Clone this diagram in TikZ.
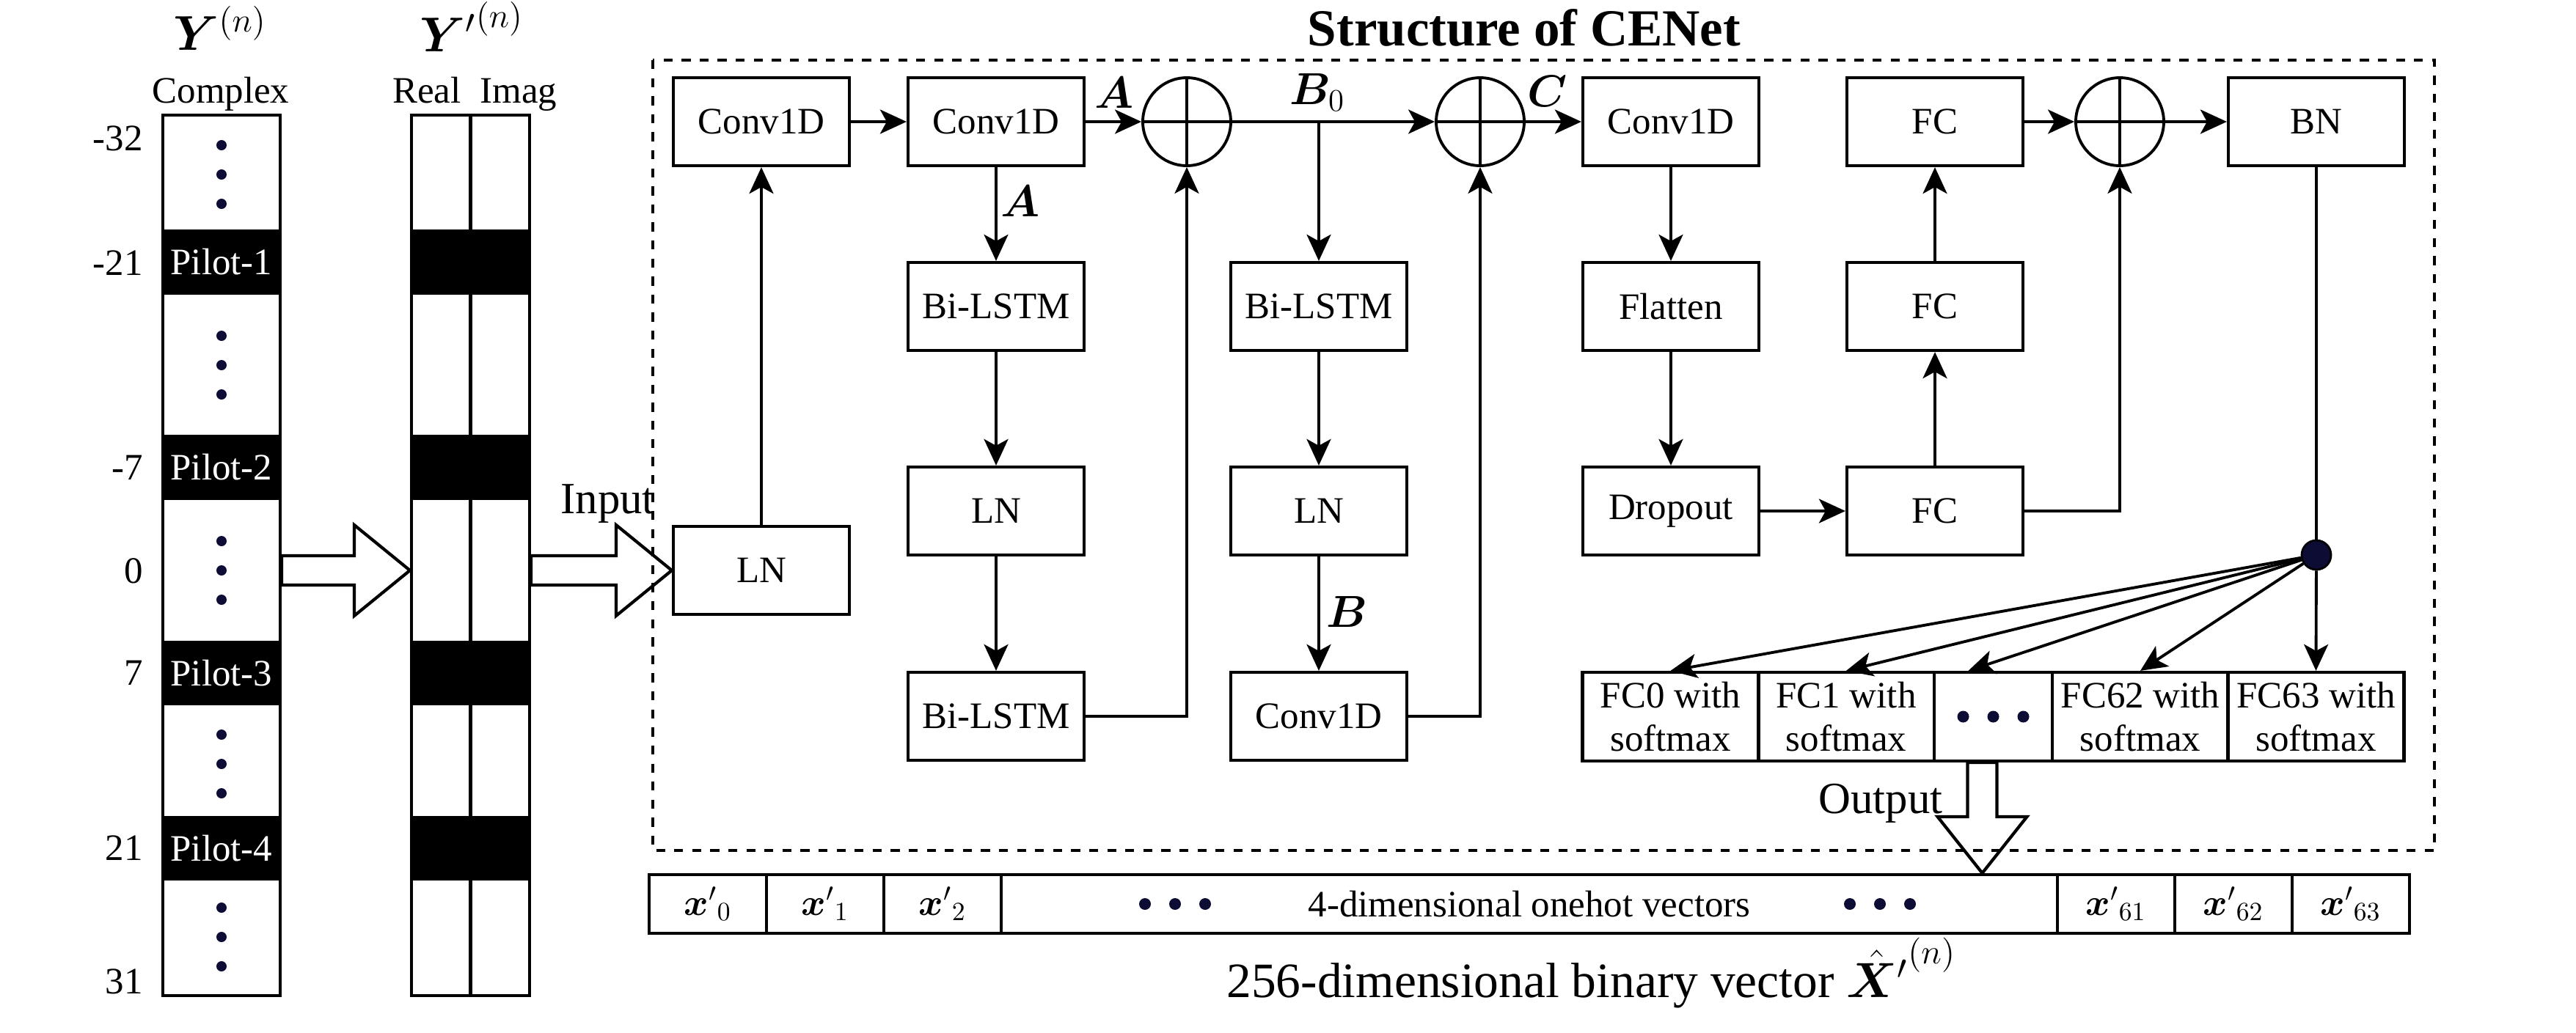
\RequirePackage{fix-cm}
\documentclass[tikz,border=0pt]{standalone}
\usepackage[no-math]{fontspec}
\setmainfont{Liberation Serif}
\usepackage{amsmath}
\usepackage{bm}
\usetikzlibrary{arrows.meta, positioning, calc}

\definecolor{dotblue}{RGB}{12,12,52}

% hollow block arrows
\newcommand{\fatright}[2]{%
  \draw[fat] let \p1=(#1), \p2=(#2) in
    (\x1,\y1+2mm) -- (\x2-7.6mm,\y1+2mm) -- (\x2-7.6mm,\y1+6.2mm) -- (\x2,\y1)
    -- (\x2-7.6mm,\y1-6.2mm) -- (\x2-7.6mm,\y1-2mm) -- (\x1,\y1-2mm) -- cycle;}
\newcommand{\fatdown}[2]{%
  \draw[fat] let \p1=(#1), \p2=(#2) in
    (\x1-2mm,\y1) -- (\x1-2mm,\y2+7.7mm) -- (\x1-6.1mm,\y2+7.7mm) -- (\x1,\y2)
    -- (\x1+6.1mm,\y2+7.7mm) -- (\x1+2mm,\y2+7.7mm) -- (\x1+2mm,\y1) -- cycle;}

\begin{document}
\begin{tikzpicture}[
    font=\fontsize{14.5}{16.8}\selectfont,
    block/.style={draw, line width=1.2pt, minimum width=24mm, minimum height=12mm, inner sep=1pt, align=center},
    sumnode/.style={circle, draw, line width=1.1pt, minimum size=12mm, inner sep=0pt,
      path picture={\draw[line width=1.1pt] (path picture bounding box.north) -- (path picture bounding box.south)
        (path picture bounding box.west) -- (path picture bounding box.east);}},
    strip/.style={draw, line width=1.2pt, minimum width=16mm, minimum height=120.1mm, inner sep=0pt},
    pilot/.style={draw, fill=black, text=white, line width=1.2pt, minimum width=16mm, minimum height=8.4mm, inner sep=0pt},
    vdots/.style={minimum width=3mm, minimum height=10mm, inner sep=0pt,
      path picture={
        \fill[dotblue] ([yshift=4mm]path picture bounding box.center) circle (0.7mm);
        \fill[dotblue] (path picture bounding box.center) circle (0.7mm);
        \fill[dotblue] ([yshift=-4mm]path picture bounding box.center) circle (0.7mm);}},
    hdots/.style={minimum width=10.5mm, minimum height=3mm, inner sep=0pt,
      path picture={
        \fill[dotblue] ([xshift=-4.1mm]path picture bounding box.center) circle (0.8mm);
        \fill[dotblue] (path picture bounding box.center) circle (0.8mm);
        \fill[dotblue] ([xshift=4.1mm]path picture bounding box.center) circle (0.8mm);}},
    cell/.style={draw, line width=1.2pt, minimum width=16mm, minimum height=8mm, inner sep=0pt},
    link/.style={-{Stealth[length=3.6mm, width=3.3mm, inset=0.9mm]}, line width=1.1pt},
    fat/.style={line width=1.2pt, line join=miter},
    lab/.style={font=\fontsize{17.4}{20}\selectfont},
    num/.style={anchor=east}
  ]
    \useasboundingbox (0,0) rectangle (35.12,-14.08);

    % input grid Y
    \node[anchor=base, font=\fontsize{19}{22}\selectfont] (ylab) at (3.00,-0.68) {$\bm{Y}^{(n)}$};
    \node[anchor=base] (cplx) at (3.01,-1.40) {Complex};
    \node[strip] (ycol) at (3.02,-7.575) {};
    \node[pilot] (p1) at (3.02,-3.575) {Pilot-1};
    \node[pilot] (p2) at (3.02,-6.375) {Pilot-2};
    \node[pilot] (p3) at (3.02,-9.18) {Pilot-3};
    \node[pilot] (p4) at (3.02,-11.57) {Pilot-4};
    \node[vdots] (d1) at (3.02,-2.38) {};
    \node[vdots] (d2) at (3.02,-4.98) {};
    \node[vdots] (d3) at (3.02,-7.78) {};
    \node[vdots] (d4) at (3.02,-10.42) {};
    \node[vdots] (d5) at (3.02,-12.78) {};
    \node[num] (n1) at (2.07,-1.89) {-32};
    \node[num] (n2) at (2.07,-3.59) {-21};
    \node[num] (n3) at (2.07,-6.38) {-7};
    \node[num] (n4) at (2.07,-7.79) {0};
    \node[num] (n5) at (2.07,-9.18) {7};
    \node[num] (n6) at (2.07,-11.57) {21};
    \node[num] (n7) at (2.07,-13.39) {31};

    % real / imag grid Y'
    \node[anchor=base, font=\fontsize{19}{22}\selectfont] (yplab) at (6.43,-0.70) {$\mbox{$\bm{Y}^{\prime}$}^{(n)}$};
    \node[anchor=base] (real) at (5.82,-1.40) {Real};
    \node[anchor=base] (imag) at (7.07,-1.40) {Imag};
    \node[strip, minimum width=16.1mm] (ypcol) at (6.415,-7.575) {};
    \draw[line width=1.2pt] (ypcol.north) -- (ypcol.south);
    \node[pilot, minimum width=16.1mm] (q1) at (6.415,-3.575) {};
    \node[pilot, minimum width=16.1mm] (q2) at (6.415,-6.375) {};
    \node[pilot, minimum width=16.1mm] (q3) at (6.415,-9.18) {};
    \node[pilot, minimum width=16.1mm] (q4) at (6.415,-11.57) {};

    % CENet
    \node[anchor=base, font=\bfseries\fontsize{20.2}{24}\selectfont] (title) at (20.78,-0.62) {Structure of CENet};
    \draw[line width=1.1pt, dash pattern=on 3.5pt off 3.5pt] (8.90,-0.82) rectangle (33.19,-11.60);

    \node[block] (lnin) at (10.38,-7.78) {LN};
    \node[block] (conva) at (10.38,-1.66) {Conv1D};
    \node[block] (convb) at (13.58,-1.66) {Conv1D};
    \node[sumnode] (adda) at (16.18,-1.66) {};
    \node[block] (lstma) at (13.58,-4.18) {Bi-LSTM};
    \node[block] (lna) at (13.58,-6.97) {LN};
    \node[block] (lstmb) at (13.58,-9.77) {Bi-LSTM};
    \node[block] (lstmc) at (17.98,-4.18) {Bi-LSTM};
    \node[block] (lnb) at (17.98,-6.97) {LN};
    \node[block] (convc) at (17.98,-9.77) {Conv1D};
    \node[sumnode] (addb) at (20.18,-1.66) {};
    \node[block] (convd) at (22.78,-1.66) {Conv1D};
    \node[block] (flat) at (22.78,-4.18) {Flatten};
    \node[block] (drop) at (22.78,-6.97) {Dropout};
    \node[block] (fca) at (26.38,-6.97) {FC};
    \node[block] (fcb) at (26.38,-4.18) {FC};
    \node[block] (fcc) at (26.38,-1.66) {FC};
    \node[sumnode] (addc) at (28.90,-1.66) {};
    \node[block] (bn) at (31.58,-1.66) {BN};
    \node[circle, draw, fill=dotblue, line width=0.8pt, minimum size=4mm, inner sep=0pt] (hub) at (31.58,-7.57) {};

    % output heads
    \node[block, minimum height=12.1mm] (fh0) at (22.775,-9.775) {FC0 with\\softmax};
    \node[block, minimum height=12.1mm] (fh1) at (25.17,-9.775) {FC1 with\\softmax};
    \node[block, minimum height=12.1mm, minimum width=16.1mm] (dd) at (27.175,-9.775) {};
    \node[hdots] (ddots) at (dd) {};
    \node[block, minimum height=12.1mm] (fh62) at (29.18,-9.775) {FC62 with\\softmax};
    \node[block, minimum height=12.1mm] (fh63) at (31.575,-9.775) {FC63 with\\softmax};

    % labels on links
    \node[lab, anchor=base] (la) at (15.19,-1.47) {$\bm{A}$};
    \node[lab, anchor=base] (lb) at (13.91,-2.95) {$\bm{A}$};
    \node[lab, anchor=base] (bz) at (17.96,-1.42) {$\bm{B}_0$};
    \node[lab, anchor=base] (lc) at (21.10,-1.45) {$\bm{C}$};
    \node[lab, anchor=base] (lbb) at (18.36,-8.55) {$\bm{B}$};

    % links
    \draw[link] (lnin) -- (conva);
    \draw[link] (conva) -- (convb);
    \draw[link] (convb) -- (adda);
    \draw[link] (convb) -- (lstma);
    \draw[link] (lstma) -- (lna);
    \draw[link] (lna) -- (lstmb);
    \draw[link] (lstmb.east) -| (adda.south);
    \draw[link] (adda) -- (addb);
    \coordinate (split) at (lstmc.north |- adda.east);
    \draw[link] (split) -- (lstmc);
    \draw[link] (lstmc) -- (lnb);
    \draw[link] (lnb) -- (convc);
    \draw[link] (convc.east) -| (addb.south);
    \draw[link] (addb) -- (convd);
    \draw[link] (convd) -- (flat);
    \draw[link] (flat) -- (drop);
    \draw[link] (drop) -- (fca);
    \draw[link] (fca) -- (fcb);
    \draw[link] (fcb) -- (fcc);
    \draw[link] (fcc) -- (addc);
    \draw[link] (fca.east) -| (addc.south);
    \draw[link] (addc) -- (bn);
    \draw[line width=1.1pt] (bn) -- (hub);
    \draw[link] (hub) -- (fh0.north);
    \draw[link] (hub) -- (fh1.north);
    \draw[link] (hub) -- ([xshift=-3.4mm]dd.north);
    \draw[link] (hub) -- (fh62.north);
    \draw[link] (hub) -- (fh63.north);

    % binary vector
    \node[cell] (xa0) at (9.65,-12.33) {$\mbox{$\bm{x}^{\prime}$}_{0}$};
    \node[cell] (xa1) at (11.25,-12.33) {$\mbox{$\bm{x}^{\prime}$}_{1}$};
    \node[cell] (xa2) at (12.85,-12.33) {$\mbox{$\bm{x}^{\prime}$}_{2}$};
    \node[cell, minimum width=144mm] (mid) at (20.85,-12.33) {4-dimensional onehot vectors};
    \node[cell] (xb61) at (28.85,-12.33) {$\mbox{$\bm{x}^{\prime}$}_{61}$};
    \node[cell] (xb62) at (30.45,-12.33) {$\mbox{$\bm{x}^{\prime}$}_{62}$};
    \node[cell] (xb63) at (32.05,-12.33) {$\mbox{$\bm{x}^{\prime}$}_{63}$};
    \node[hdots] (mdl) at (16.02,-12.33) {};
    \node[hdots] (mdr) at (25.63,-12.33) {};
    \node[anchor=base west, font=\fontsize{19.2}{23}\selectfont] (xlab) at (16.60,-13.60)
      {256-dimensional binary vector $\mbox{$\hat{\bm{X}}^{\prime}$}^{(n)}$};

    % block arrows
    \fatright{ycol.east |- lnin.west}{ypcol.west |- lnin.west}
    \fatright{ypcol.east |- lnin.west}{lnin.west}
    \node[anchor=base west, font=\fontsize{17.3}{20}\selectfont] (inlab) at (7.52,-7.00) {Input};
    \coordinate (outtail) at ([xshift=-1.5mm]dd.south);
    \fatdown{outtail}{outtail |- mid.north}
    \node[anchor=base west, font=\fontsize{17.3}{20}\selectfont] (outlab) at (24.67,-11.09) {Output};
  \end{tikzpicture}
\end{document}
